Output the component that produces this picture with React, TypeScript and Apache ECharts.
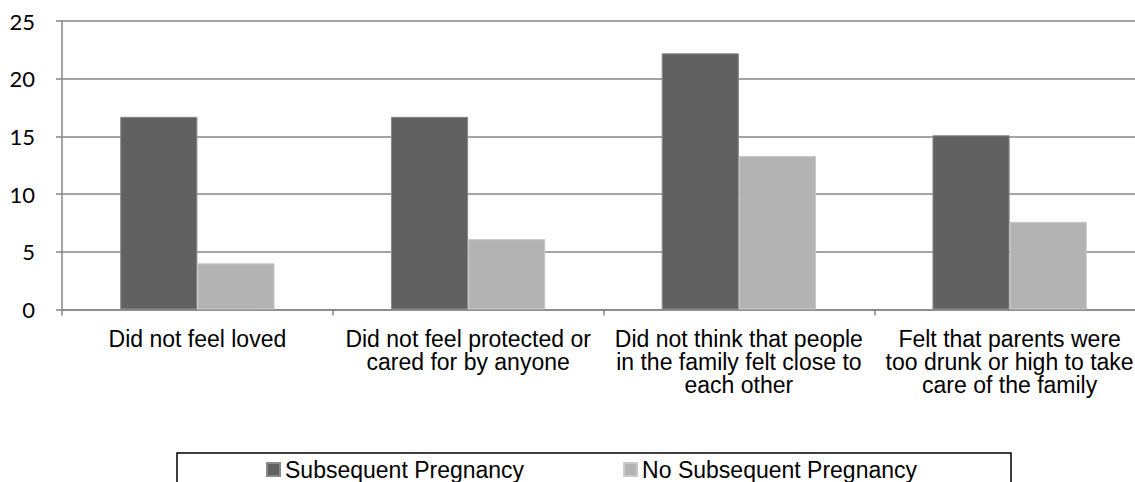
import React, { useEffect, useRef } from "react";
import * as echarts from "echarts";

const categories = [
  "Did not feel loved",
  "Did not feel protected or\ncared for by anyone",
  "Did not think that people\nin the family felt close to\neach other",
  "Felt that parents were\ntoo drunk or high to take\ncare of the family",
];
const seriesNames = ["Subsequent Pregnancy", "No Subsequent Pregnancy"];
const subsequent = [16.7, 16.7, 22.2, 15.1];
const noSubsequent = [4.0, 6.1, 13.3, 7.6];

export default function App() {
  const ref = useRef<HTMLDivElement>(null);
  useEffect(() => {
    document.body.style.margin = "0";
    const chart = echarts.init(ref.current!, null, { renderer: "svg" });
    chart.setOption({
      animation: false,
      backgroundColor: "#ffffff",
      grid: {
        left: 62,
        top: 21,
        width: 1083,
        height: 288.5,
        containLabel: false,
        outerBoundsMode: "none",
      },
      xAxis: {
        type: "category",
        data: categories,
        axisLine: { show: true, lineStyle: { color: "#868686", width: 1.5 } },
        axisTick: { show: true, length: 6, alignWithLabel: false, lineStyle: { color: "#868686", width: 1.5 } },
        axisLabel: {
          interval: 0,
          margin: 18,
          color: "#000000",
          fontFamily: "Liberation Sans, Arial, sans-serif",
          fontSize: 23,
          lineHeight: 23,
          align: "center",
        },
      },
      yAxis: {
        type: "value",
        min: 0,
        max: 25,
        interval: 5,
        axisLine: { show: true, lineStyle: { color: "#868686", width: 1.5 } },
        axisTick: { show: true, length: 6, lineStyle: { color: "#868686", width: 1.5 } },
        splitLine: { show: true, lineStyle: { color: "#868686", width: 1.5 } },
        axisLabel: {
          margin: 27,
          color: "#000000",
          fontFamily: "Lato, Liberation Sans, sans-serif",
          fontSize: 22,
        },
      },
      legend: {
        data: seriesNames,
        left: 266,
        top: 458,
        padding: 0,
        itemWidth: 13,
        itemHeight: 13,
        itemGap: 99,
        icon: "rect",
        textStyle: {
          color: "#000000",
          fontFamily: "Liberation Sans, Arial, sans-serif",
          fontSize: 23,
          lineHeight: 23,
          padding: [0, 0, 0, 0],
        },
      },
      graphic: [
        {
          type: "rect",
          shape: { x: 177, y: 453, width: 834, height: 60 },
          style: { fill: "none", stroke: "#000000", lineWidth: 1.5 },
          silent: true,
        },
      ],
      series: [
        {
          name: seriesNames[0],
          type: "bar",
          data: subsequent,
          barGap: "0%",
          barCategoryGap: "43%",
          itemStyle: { color: "#616161", borderColor: "#8a8a8a", borderWidth: 1 },
        },
        {
          name: seriesNames[1],
          type: "bar",
          data: noSubsequent,
          barGap: "0%",
          barCategoryGap: "43%",
          itemStyle: { color: "#b3b3b3", borderColor: "#c9c9c9", borderWidth: 1 },
        },
      ],
    });
    return () => chart.dispose();
  }, []);
  return (
    <div
      ref={ref}
      style={{ position: "fixed", left: 0, top: 0, width: 1135, height: 482 }}
    />
  );
}
